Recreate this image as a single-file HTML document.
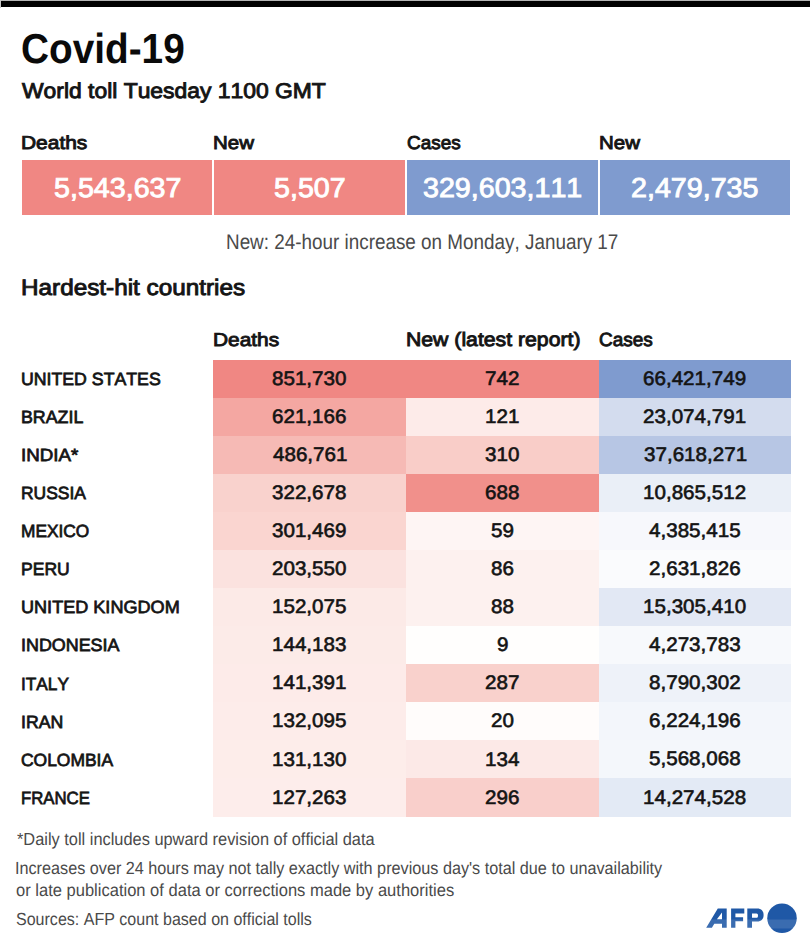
<!DOCTYPE html>
<html><head><meta charset="utf-8">
<style>
html,body{margin:0;padding:0;background:#fff;}
body{width:810px;height:943px;position:relative;overflow:hidden;font-family:"Liberation Sans",sans-serif;color:#111;}
.t{position:absolute;white-space:nowrap;transform-origin:0 0;text-rendering:geometricPrecision;font-kerning:none;font-variant-ligatures:none;}
.r{position:absolute;}
</style></head><body>
<div class="r" style="left:0;top:0;width:810px;height:1px;background:#b4b4b4"></div>
<div class="r" style="left:0;top:0;width:1px;height:8px;background:#c8c8c8"></div>
<div class="r" style="left:1px;top:1px;width:809px;height:6px;background:#000"></div>
<div class="t" style="left:20.81px;top:22.80px;font-size:42.090px;line-height:51px;font-weight:bold;color:#0a0a0a;transform:scaleX(0.9211)">Covid-19</div>
<div class="t" style="left:21.65px;top:77.75px;font-size:21.367px;line-height:26px;font-weight:normal;color:#141414;transform:scaleX(1.0709);-webkit-text-stroke:0.9px #141414">World toll Tuesday 1100 GMT</div>
<div class="t" style="left:20.63px;top:131.63px;font-size:18.605px;line-height:22px;font-weight:normal;color:#141414;transform:scaleX(1.1260);-webkit-text-stroke:0.9px #141414">Deaths</div>
<div class="t" style="left:213.37px;top:131.66px;font-size:18.605px;line-height:22px;font-weight:normal;color:#141414;transform:scaleX(1.0997);-webkit-text-stroke:0.9px #141414">New</div>
<div class="t" style="left:406.59px;top:131.98px;font-size:18.605px;line-height:22px;font-weight:normal;color:#141414;transform:scaleX(1.0172);-webkit-text-stroke:0.9px #141414">Cases</div>
<div class="t" style="left:598.97px;top:131.66px;font-size:18.605px;line-height:22px;font-weight:normal;color:#141414;transform:scaleX(1.0997);-webkit-text-stroke:0.9px #141414">New</div>
<div class="r" style="left:22px;top:160.2px;width:190px;height:54.9px;background:#f08783"></div>
<div class="r" style="left:214px;top:160.2px;width:191px;height:54.9px;background:#f08783"></div>
<div class="r" style="left:407px;top:160.2px;width:191px;height:54.9px;background:#7f9bcf"></div>
<div class="r" style="left:600px;top:160.2px;width:190px;height:54.9px;background:#7f9bcf"></div>
<div class="t" style="left:53.70px;top:170.58px;font-size:27.374px;line-height:33px;font-weight:normal;color:#fff;transform:scaleX(1.0469);-webkit-text-stroke:0.9px #fff">5,543,637</div>
<div class="t" style="left:273.79px;top:170.58px;font-size:27.374px;line-height:33px;font-weight:normal;color:#fff;transform:scaleX(1.0469);-webkit-text-stroke:0.9px #fff">5,507</div>
<div class="t" style="left:422.97px;top:170.55px;font-size:27.374px;line-height:33px;font-weight:normal;color:#fff;transform:scaleX(1.0469);-webkit-text-stroke:0.9px #fff">329,603,111</div>
<div class="t" style="left:631.14px;top:170.59px;font-size:27.374px;line-height:33px;font-weight:normal;color:#fff;transform:scaleX(1.0469);-webkit-text-stroke:0.9px #fff">2,479,735</div>
<div class="t" style="left:226.45px;top:229.91px;font-size:21.221px;line-height:25px;font-weight:normal;color:#4a4a4a;transform:scaleX(0.8894)">New: 24-hour increase on Monday, January 17</div>
<div class="t" style="left:20.86px;top:273.90px;font-size:22.384px;line-height:27px;font-weight:normal;color:#141414;transform:scaleX(1.0855);-webkit-text-stroke:0.9px #141414">Hardest-hit countries</div>
<div class="t" style="left:213.44px;top:327.71px;font-size:18.750px;line-height:23px;font-weight:normal;color:#141414;transform:scaleX(1.1138);-webkit-text-stroke:0.9px #141414">Deaths</div>
<div class="t" style="left:406.11px;top:328.71px;font-size:19.477px;line-height:23px;font-weight:normal;color:#141414;transform:scaleX(1.0897);-webkit-text-stroke:0.9px #141414">New (latest report)</div>
<div class="t" style="left:599.19px;top:328.72px;font-size:19.041px;line-height:23px;font-weight:normal;color:#141414;transform:scaleX(0.9959);-webkit-text-stroke:0.9px #141414">Cases</div>
<div class="r" style="left:213.4px;top:359.50px;width:192.20px;height:38.48px;background:#f08783"></div>
<div class="r" style="left:405.6px;top:359.50px;width:193.30px;height:38.48px;background:#f08783"></div>
<div class="r" style="left:598.9px;top:359.50px;width:192.30px;height:38.48px;background:#7f9bcf"></div>
<div class="r" style="left:213.4px;top:397.58px;width:192.20px;height:38.48px;background:#f4a7a2"></div>
<div class="r" style="left:405.6px;top:397.58px;width:193.30px;height:38.48px;background:#fdebe9"></div>
<div class="r" style="left:598.9px;top:397.58px;width:192.30px;height:38.48px;background:#d3dcee"></div>
<div class="r" style="left:213.4px;top:435.66px;width:192.20px;height:38.48px;background:#f6bab5"></div>
<div class="r" style="left:405.6px;top:435.66px;width:193.30px;height:38.48px;background:#f9cdc8"></div>
<div class="r" style="left:598.9px;top:435.66px;width:192.30px;height:38.48px;background:#b7c6e4"></div>
<div class="r" style="left:213.4px;top:473.74px;width:192.20px;height:38.48px;background:#f9d2cd"></div>
<div class="r" style="left:405.6px;top:473.74px;width:193.30px;height:38.48px;background:#f1908b"></div>
<div class="r" style="left:598.9px;top:473.74px;width:192.30px;height:38.48px;background:#eaeff7"></div>
<div class="r" style="left:213.4px;top:511.82px;width:192.20px;height:38.48px;background:#fad5d0"></div>
<div class="r" style="left:405.6px;top:511.82px;width:193.30px;height:38.48px;background:#fef5f4"></div>
<div class="r" style="left:598.9px;top:511.82px;width:192.30px;height:38.48px;background:#f7f8fc"></div>
<div class="r" style="left:213.4px;top:549.90px;width:192.20px;height:38.48px;background:#fbe2df"></div>
<div class="r" style="left:405.6px;top:549.90px;width:193.30px;height:38.48px;background:#fdf1ef"></div>
<div class="r" style="left:598.9px;top:549.90px;width:192.30px;height:38.48px;background:#fafbfd"></div>
<div class="r" style="left:213.4px;top:587.98px;width:192.20px;height:38.48px;background:#fceae7"></div>
<div class="r" style="left:405.6px;top:587.98px;width:193.30px;height:38.48px;background:#fdf1ef"></div>
<div class="r" style="left:598.9px;top:587.98px;width:192.30px;height:38.48px;background:#e2e8f4"></div>
<div class="r" style="left:213.4px;top:626.06px;width:192.20px;height:38.48px;background:#fcebe8"></div>
<div class="r" style="left:405.6px;top:626.06px;width:193.30px;height:38.48px;background:#fffefd"></div>
<div class="r" style="left:598.9px;top:626.06px;width:192.30px;height:38.48px;background:#f7f9fc"></div>
<div class="r" style="left:213.4px;top:664.14px;width:192.20px;height:38.48px;background:#fdebe9"></div>
<div class="r" style="left:405.6px;top:664.14px;width:193.30px;height:38.48px;background:#f9d1cc"></div>
<div class="r" style="left:598.9px;top:664.14px;width:192.30px;height:38.48px;background:#eef2f9"></div>
<div class="r" style="left:213.4px;top:702.22px;width:192.20px;height:38.48px;background:#fdecea"></div>
<div class="r" style="left:405.6px;top:702.22px;width:193.30px;height:38.48px;background:#fffcfb"></div>
<div class="r" style="left:598.9px;top:702.22px;width:192.30px;height:38.48px;background:#f3f6fb"></div>
<div class="r" style="left:213.4px;top:740.30px;width:192.20px;height:38.48px;background:#fdedea"></div>
<div class="r" style="left:405.6px;top:740.30px;width:193.30px;height:38.48px;background:#fce9e7"></div>
<div class="r" style="left:598.9px;top:740.30px;width:192.30px;height:38.48px;background:#f4f7fb"></div>
<div class="r" style="left:213.4px;top:778.38px;width:192.20px;height:38.48px;background:#fdedeb"></div>
<div class="r" style="left:405.6px;top:778.38px;width:193.30px;height:38.48px;background:#f9cfcb"></div>
<div class="r" style="left:598.9px;top:778.38px;width:192.30px;height:38.48px;background:#e3eaf5"></div>
<div class="t" style="left:20.91px;top:368.82px;font-size:17.660px;line-height:21px;font-weight:normal;color:#141414;transform:scaleX(1.0028);-webkit-text-stroke:0.75px #141414">UNITED STATES</div>
<div class="t" style="left:272.40px;top:367.58px;font-size:19.491px;line-height:23px;font-weight:normal;color:#141414;transform:scaleX(1.0574);-webkit-text-stroke:0.6px #141414">851,730</div>
<div class="t" style="left:485.05px;top:367.95px;font-size:19.491px;line-height:23px;font-weight:normal;color:#141414;transform:scaleX(1.0574);-webkit-text-stroke:0.6px #141414">742</div>
<div class="t" style="left:643.44px;top:367.57px;font-size:19.491px;line-height:23px;font-weight:normal;color:#141414;transform:scaleX(1.0574);-webkit-text-stroke:0.6px #141414">66,421,749</div>
<div class="t" style="left:20.82px;top:406.77px;font-size:17.660px;line-height:21px;font-weight:normal;color:#141414;transform:scaleX(1.0076);-webkit-text-stroke:0.75px #141414">BRAZIL</div>
<div class="t" style="left:272.18px;top:405.90px;font-size:19.491px;line-height:23px;font-weight:normal;color:#141414;transform:scaleX(1.0574);-webkit-text-stroke:0.6px #141414">621,166</div>
<div class="t" style="left:484.77px;top:405.76px;font-size:19.491px;line-height:23px;font-weight:normal;color:#141414;transform:scaleX(1.0574);-webkit-text-stroke:0.6px #141414">121</div>
<div class="t" style="left:643.46px;top:405.80px;font-size:19.491px;line-height:23px;font-weight:normal;color:#141414;transform:scaleX(1.0574);-webkit-text-stroke:0.6px #141414">23,074,791</div>
<div class="t" style="left:20.54px;top:444.50px;font-size:17.660px;line-height:21px;font-weight:normal;color:#141414;transform:scaleX(1.0631);-webkit-text-stroke:0.75px #141414">INDIA*</div>
<div class="t" style="left:272.52px;top:443.62px;font-size:19.491px;line-height:23px;font-weight:normal;color:#141414;transform:scaleX(1.0574);-webkit-text-stroke:0.6px #141414">486,761</div>
<div class="t" style="left:485.07px;top:443.99px;font-size:19.491px;line-height:23px;font-weight:normal;color:#141414;transform:scaleX(1.0574);-webkit-text-stroke:0.6px #141414">310</div>
<div class="t" style="left:643.58px;top:443.50px;font-size:19.491px;line-height:23px;font-weight:normal;color:#141414;transform:scaleX(1.0574);-webkit-text-stroke:0.6px #141414">37,618,271</div>
<div class="t" style="left:20.84px;top:482.95px;font-size:17.660px;line-height:21px;font-weight:normal;color:#141414;transform:scaleX(0.9873);-webkit-text-stroke:0.75px #141414">RUSSIA</div>
<div class="t" style="left:272.30px;top:481.82px;font-size:19.491px;line-height:23px;font-weight:normal;color:#141414;transform:scaleX(1.0574);-webkit-text-stroke:0.6px #141414">322,678</div>
<div class="t" style="left:484.98px;top:481.78px;font-size:19.491px;line-height:23px;font-weight:normal;color:#141414;transform:scaleX(1.0574);-webkit-text-stroke:0.6px #141414">688</div>
<div class="t" style="left:643.21px;top:481.63px;font-size:19.491px;line-height:23px;font-weight:normal;color:#141414;transform:scaleX(1.0574);-webkit-text-stroke:0.6px #141414">10,865,512</div>
<div class="t" style="left:20.86px;top:520.56px;font-size:17.660px;line-height:21px;font-weight:normal;color:#141414;transform:scaleX(0.9789);-webkit-text-stroke:0.75px #141414">MEXICO</div>
<div class="t" style="left:272.35px;top:519.66px;font-size:19.491px;line-height:23px;font-weight:normal;color:#141414;transform:scaleX(1.0574);-webkit-text-stroke:0.6px #141414">301,469</div>
<div class="t" style="left:490.86px;top:519.65px;font-size:19.491px;line-height:23px;font-weight:normal;color:#141414;transform:scaleX(1.0574);-webkit-text-stroke:0.6px #141414">59</div>
<div class="t" style="left:649.40px;top:519.99px;font-size:19.491px;line-height:23px;font-weight:normal;color:#141414;transform:scaleX(1.0574);-webkit-text-stroke:0.6px #141414">4,385,415</div>
<div class="t" style="left:20.84px;top:558.83px;font-size:17.660px;line-height:21px;font-weight:normal;color:#141414;transform:scaleX(0.9934);-webkit-text-stroke:0.75px #141414">PERU</div>
<div class="t" style="left:272.13px;top:557.84px;font-size:19.491px;line-height:23px;font-weight:normal;color:#141414;transform:scaleX(1.0574);-webkit-text-stroke:0.6px #141414">203,550</div>
<div class="t" style="left:490.79px;top:557.67px;font-size:19.491px;line-height:23px;font-weight:normal;color:#141414;transform:scaleX(1.0574);-webkit-text-stroke:0.6px #141414">86</div>
<div class="t" style="left:649.14px;top:557.84px;font-size:19.491px;line-height:23px;font-weight:normal;color:#141414;transform:scaleX(1.0574);-webkit-text-stroke:0.6px #141414">2,631,826</div>
<div class="t" style="left:20.88px;top:596.73px;font-size:17.660px;line-height:21px;font-weight:normal;color:#141414;transform:scaleX(1.0239);-webkit-text-stroke:0.75px #141414">UNITED KINGDOM</div>
<div class="t" style="left:271.90px;top:595.84px;font-size:19.491px;line-height:23px;font-weight:normal;color:#141414;transform:scaleX(1.0574);-webkit-text-stroke:0.6px #141414">152,075</div>
<div class="t" style="left:490.79px;top:595.50px;font-size:19.491px;line-height:23px;font-weight:normal;color:#141414;transform:scaleX(1.0574);-webkit-text-stroke:0.6px #141414">88</div>
<div class="t" style="left:643.09px;top:595.84px;font-size:19.491px;line-height:23px;font-weight:normal;color:#141414;transform:scaleX(1.0574);-webkit-text-stroke:0.6px #141414">15,305,410</div>
<div class="t" style="left:20.62px;top:634.89px;font-size:17.660px;line-height:21px;font-weight:normal;color:#141414;transform:scaleX(1.0133);-webkit-text-stroke:0.75px #141414">INDONESIA</div>
<div class="t" style="left:271.92px;top:633.67px;font-size:19.491px;line-height:23px;font-weight:normal;color:#141414;transform:scaleX(1.0574);-webkit-text-stroke:0.6px #141414">144,183</div>
<div class="t" style="left:496.52px;top:633.51px;font-size:19.491px;line-height:23px;font-weight:normal;color:#141414;transform:scaleX(1.0574);-webkit-text-stroke:0.6px #141414">9</div>
<div class="t" style="left:649.42px;top:633.70px;font-size:19.491px;line-height:23px;font-weight:normal;color:#141414;transform:scaleX(1.0574);-webkit-text-stroke:0.6px #141414">4,273,783</div>
<div class="t" style="left:20.68px;top:673.93px;font-size:17.660px;line-height:21px;font-weight:normal;color:#141414;transform:scaleX(0.9765);-webkit-text-stroke:0.75px #141414">ITALY</div>
<div class="t" style="left:271.97px;top:671.52px;font-size:19.491px;line-height:23px;font-weight:normal;color:#141414;transform:scaleX(1.0574);-webkit-text-stroke:0.6px #141414">141,391</div>
<div class="t" style="left:485.06px;top:671.55px;font-size:19.491px;line-height:23px;font-weight:normal;color:#141414;transform:scaleX(1.0574);-webkit-text-stroke:0.6px #141414">287</div>
<div class="t" style="left:649.28px;top:671.87px;font-size:19.491px;line-height:23px;font-weight:normal;color:#141414;transform:scaleX(1.0574);-webkit-text-stroke:0.6px #141414">8,790,302</div>
<div class="t" style="left:20.64px;top:711.76px;font-size:17.660px;line-height:21px;font-weight:normal;color:#141414;transform:scaleX(1.0032);-webkit-text-stroke:0.75px #141414">IRAN</div>
<div class="t" style="left:271.90px;top:709.55px;font-size:19.491px;line-height:23px;font-weight:normal;color:#141414;transform:scaleX(1.0574);-webkit-text-stroke:0.6px #141414">132,095</div>
<div class="t" style="left:490.67px;top:709.59px;font-size:19.491px;line-height:23px;font-weight:normal;color:#141414;transform:scaleX(1.0574);-webkit-text-stroke:0.6px #141414">20</div>
<div class="t" style="left:649.13px;top:709.68px;font-size:19.491px;line-height:23px;font-weight:normal;color:#141414;transform:scaleX(1.0574);-webkit-text-stroke:0.6px #141414">6,224,196</div>
<div class="t" style="left:21.39px;top:749.50px;font-size:17.660px;line-height:21px;font-weight:normal;color:#141414;transform:scaleX(0.9876);-webkit-text-stroke:0.75px #141414">COLOMBIA</div>
<div class="t" style="left:271.87px;top:748.89px;font-size:19.491px;line-height:23px;font-weight:normal;color:#141414;transform:scaleX(1.0574);-webkit-text-stroke:0.6px #141414">131,130</div>
<div class="t" style="left:484.57px;top:748.89px;font-size:19.491px;line-height:23px;font-weight:normal;color:#141414;transform:scaleX(1.0574);-webkit-text-stroke:0.6px #141414">134</div>
<div class="t" style="left:649.24px;top:747.56px;font-size:19.491px;line-height:23px;font-weight:normal;color:#141414;transform:scaleX(1.0574);-webkit-text-stroke:0.6px #141414">5,568,068</div>
<div class="t" style="left:20.90px;top:787.75px;font-size:17.660px;line-height:21px;font-weight:normal;color:#141414;transform:scaleX(0.9482);-webkit-text-stroke:0.75px #141414">FRANCE</div>
<div class="t" style="left:271.92px;top:786.71px;font-size:19.491px;line-height:23px;font-weight:normal;color:#141414;transform:scaleX(1.0574);-webkit-text-stroke:0.6px #141414">127,263</div>
<div class="t" style="left:484.99px;top:786.96px;font-size:19.491px;line-height:23px;font-weight:normal;color:#141414;transform:scaleX(1.0574);-webkit-text-stroke:0.6px #141414">296</div>
<div class="t" style="left:643.14px;top:786.72px;font-size:19.491px;line-height:23px;font-weight:normal;color:#141414;transform:scaleX(1.0574);-webkit-text-stroke:0.6px #141414">14,274,528</div>
<div class="t" style="left:16.74px;top:828.56px;font-size:17.588px;line-height:21px;font-weight:normal;color:#4a4a4a;transform:scaleX(0.9312)">*Daily toll includes upward revision of official data</div>
<div class="t" style="left:14.90px;top:857.62px;font-size:17.588px;line-height:21px;font-weight:normal;color:#4a4a4a;transform:scaleX(0.9220)">Increases over 24 hours may not tally exactly with previous day's total due to unavailability</div>
<div class="t" style="left:15.71px;top:879.73px;font-size:17.588px;line-height:21px;font-weight:normal;color:#4a4a4a;transform:scaleX(0.9401)">or late publication of data or corrections made by authorities</div>
<div class="t" style="left:15.67px;top:908.50px;font-size:17.588px;line-height:21px;font-weight:normal;color:#4a4a4a;transform:scaleX(0.9120)">Sources: AFP count based on official tolls</div>
<svg style="position:absolute;left:0;top:0" width="810" height="943" viewBox="0 0 810 943">
<path fill="#1f58a6" fill-rule="evenodd" d="M706.2 927.7 L717.8 908.4 L726.7 908.4 L726.7 927.7 L722 927.7 L722 923.7 L714.3 923.7 L711.9 927.7 Z M716.9 919.3 L722 919.3 L722 912.6 Z"/>
<path fill="#1f58a6" d="M731.1 908.4 L744.3 908.4 L744.3 913.6 L735.4 913.6 L735.4 917.3 L743.1 917.3 L743.1 921.3 L735.4 921.3 L735.4 927.7 L731.1 927.7 Z"/>
<path fill="#1f58a6" fill-rule="evenodd" d="M747.3 908.4 L757 908.4 C761.5 908.4 763.6 911 763.6 915 C763.6 919 761.5 921.5 757 921.5 L752 921.5 L752 927.7 L747.3 927.7 Z M752 913.6 L756.5 913.6 C757.5 913.6 758 914.5 758 915.7 C758 916.9 757.5 917.8 756.5 917.8 L752 917.8 Z"/>
<circle cx="782" cy="918.2" r="14.75" fill="#1f58a6"/>
<rect x="700" y="919.5" width="110" height="9" fill="#fff" opacity="0.12"/>
</svg>
</body></html>
